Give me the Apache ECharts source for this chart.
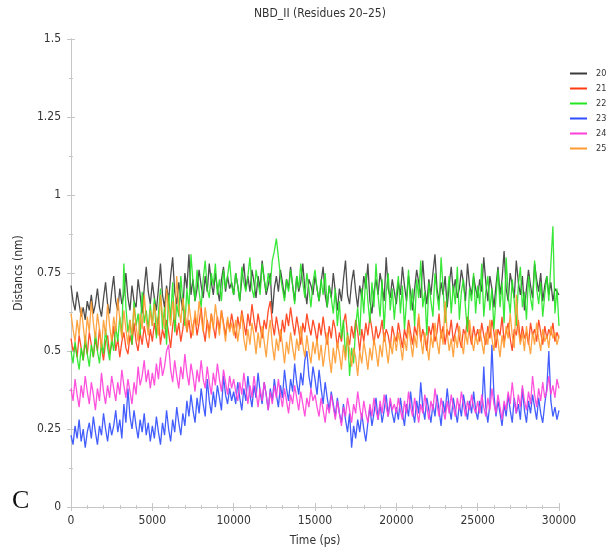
<!DOCTYPE html>
<html>
<head>
<meta charset="utf-8">
<script src="https://cdn.jsdelivr.net/npm/echarts@6/dist/echarts.min.js"></script>
<style>html,body{margin:0;padding:0;background:#fff}#c{width:611px;height:552px}</style>
</head>
<body>
<div id="c"></div>
<script>
const timeMax = 30000; // ps, samples evenly spaced from 0 to timeMax
const residues = ['20','21','22','23','24','25'];
const xTicks = [0,5000,10000,15000,20000,25000,30000];
const yTicks = [0,0.25,0.5,0.75,1,1.25,1.5];

const r20 = [
 0.71,0.66,0.63,0.69,0.65,0.61,0.64,0.60,0.66,0.63,0.68,0.62,0.65,0.70,0.64,0.61,0.67,0.72,0.65,0.62,0.69,0.74,0.66,0.63,0.70,0.65,0.68,0.75,0.67,0.63,0.71,0.66,0.64,0.73,0.68,0.62,0.70,0.77,0.69,0.65,
 0.72,0.67,0.63,0.70,0.78,0.68,0.64,0.71,0.66,0.74,0.80,0.69,0.65,0.72,0.67,0.63,0.75,0.70,0.81,0.68,0.73,0.66,0.70,0.76,0.71,0.67,0.74,0.69,0.78,0.72,0.68,0.75,0.70,0.66,0.73,0.77,0.69,0.74,0.70,0.72,
 0.68,0.75,0.71,0.66,0.73,0.78,0.70,0.74,0.69,0.76,0.72,0.67,0.74,0.70,0.79,0.73,0.68,0.71,0.75,0.62,0.70,0.74,0.69,0.76,0.72,0.67,0.73,0.70,0.77,0.71,0.66,0.74,0.69,0.72,0.78,0.70,0.65,0.73,0.71,0.68,
 0.74,0.70,0.66,0.72,0.77,0.68,0.64,0.71,0.67,0.75,0.69,0.63,0.70,0.66,0.73,0.79,0.68,0.65,0.72,0.76,0.69,0.64,0.71,0.67,0.74,0.70,0.78,0.66,0.62,0.69,0.73,0.68,0.75,0.71,0.66,0.80,0.70,0.67,0.73,0.69,
 0.65,0.72,0.68,0.77,0.71,0.66,0.74,0.69,0.63,0.70,0.76,0.72,0.67,0.79,0.70,0.65,0.73,0.68,0.75,0.81,0.70,0.66,0.72,0.68,0.74,0.64,0.71,0.77,0.69,0.73,0.67,0.70,0.76,0.72,0.66,0.78,0.71,0.68,0.74,0.70,
 0.67,0.73,0.69,0.80,0.72,0.66,0.74,0.70,0.64,0.71,0.77,0.68,0.73,0.82,0.70,0.66,0.75,0.71,0.67,0.79,0.72,0.68,0.74,0.63,0.70,0.76,0.71,0.67,0.78,0.73,0.69,0.75,0.66,0.71,0.74,0.68,0.72,0.66,0.70,0.69,0.68];
const r21 = [
 0.54,0.50,0.52,0.48,0.55,0.51,0.47,0.53,0.49,0.56,0.52,0.48,0.54,0.50,0.57,0.51,0.47,0.53,0.55,0.49,0.52,0.58,0.50,0.54,0.48,0.53,0.56,0.51,0.49,0.55,0.52,0.59,0.53,0.50,0.56,0.52,0.58,0.54,0.51,0.57,
 0.53,0.59,0.55,0.61,0.52,0.57,0.54,0.60,0.56,0.51,0.58,0.62,0.55,0.59,0.53,0.57,0.63,0.56,0.60,0.54,0.58,0.61,0.55,0.59,0.64,0.57,0.53,0.60,0.56,0.62,0.58,0.54,0.61,0.57,0.63,0.59,0.55,0.60,0.57,0.62,
 0.58,0.54,0.61,0.57,0.63,0.59,0.55,0.62,0.58,0.65,0.60,0.56,0.62,0.58,0.54,0.60,0.57,0.63,0.66,0.59,0.55,0.61,0.57,0.53,0.60,0.56,0.62,0.58,0.64,0.59,0.55,0.61,0.57,0.52,0.59,0.56,0.62,0.58,0.55,0.60,
 0.57,0.53,0.59,0.55,0.61,0.56,0.52,0.58,0.54,0.60,0.57,0.51,0.56,0.53,0.59,0.62,0.55,0.52,0.58,0.54,0.60,0.56,0.50,0.57,0.53,0.59,0.55,0.61,0.57,0.52,0.58,0.54,0.56,0.60,0.53,0.57,0.55,0.51,0.58,0.55,
 0.53,0.59,0.55,0.51,0.57,0.54,0.60,0.56,0.52,0.58,0.55,0.61,0.53,0.57,0.54,0.50,0.58,0.55,0.59,0.53,0.56,0.62,0.54,0.58,0.52,0.57,0.55,0.60,0.53,0.56,0.59,0.54,0.51,0.57,0.55,0.61,0.56,0.52,0.58,0.54,
 0.57,0.53,0.59,0.55,0.52,0.58,0.54,0.60,0.56,0.51,0.57,0.55,0.61,0.53,0.56,0.59,0.54,0.50,0.57,0.55,0.60,0.53,0.58,0.54,0.56,0.52,0.59,0.55,0.57,0.53,0.60,0.56,0.52,0.58,0.54,0.57,0.55,0.59,0.53,0.56,0.54];
const r22 = [
 0.50,0.46,0.53,0.48,0.44,0.51,0.47,0.55,0.49,0.45,0.52,0.48,0.56,0.50,0.46,0.53,0.49,0.57,0.51,0.47,0.54,0.50,0.58,0.53,0.61,0.55,0.78,0.64,0.56,0.60,0.52,0.66,0.58,0.62,0.55,0.69,0.59,0.63,0.57,0.65,
 0.58,0.67,0.54,0.62,0.70,0.57,0.64,0.52,0.68,0.60,0.72,0.56,0.65,0.61,0.74,0.66,0.58,0.70,0.63,0.81,0.72,0.66,0.76,0.69,0.64,0.73,0.79,0.70,0.67,0.75,0.71,0.78,0.68,0.73,0.66,0.76,0.70,0.74,0.79,0.71,
 0.68,0.75,0.71,0.66,0.77,0.72,0.69,0.74,0.80,0.70,0.67,0.76,0.72,0.68,0.78,0.73,0.69,0.75,0.71,0.79,0.82,0.86,0.80,0.74,0.70,0.66,0.73,0.69,0.76,0.71,0.65,0.74,0.70,0.78,0.72,0.67,0.75,0.70,0.64,0.72,
 0.76,0.70,0.66,0.73,0.68,0.75,0.64,0.71,0.67,0.62,0.70,0.58,0.66,0.54,0.60,0.48,0.56,0.42,0.51,0.46,0.58,0.64,0.55,0.70,0.62,0.75,0.66,0.59,0.72,0.64,0.78,0.68,0.61,0.73,0.57,0.69,0.75,0.63,0.70,0.60,
 0.68,0.74,0.62,0.71,0.57,0.66,0.76,0.63,0.70,0.58,0.73,0.67,0.79,0.64,0.69,0.55,0.72,0.66,0.61,0.75,0.68,0.63,0.80,0.70,0.59,0.67,0.74,0.62,0.71,0.65,0.77,0.60,0.69,0.73,0.64,0.56,0.70,0.66,0.75,0.62,
 0.71,0.65,0.78,0.61,0.69,0.74,0.63,0.70,0.57,0.67,0.76,0.64,0.72,0.59,0.80,0.68,0.62,0.73,0.66,0.58,0.71,0.77,0.64,0.69,0.60,0.74,0.67,0.63,0.79,0.70,0.65,0.72,0.61,0.68,0.74,0.66,0.78,0.90,0.62,0.70,0.58];
const r23 = [
 0.23,0.20,0.26,0.22,0.28,0.21,0.25,0.19,0.24,0.27,0.22,0.29,0.24,0.20,0.26,0.23,0.30,0.25,0.21,0.27,0.23,0.26,0.31,0.24,0.28,0.22,0.33,0.27,0.38,0.29,0.25,0.31,0.26,0.22,0.28,0.24,0.30,0.23,0.27,0.21,
 0.26,0.22,0.29,0.24,0.20,0.27,0.23,0.31,0.25,0.21,0.28,0.24,0.32,0.27,0.23,0.30,0.26,0.34,0.29,0.36,0.31,0.27,0.35,0.30,0.38,0.33,0.29,0.41,0.34,0.30,0.37,0.32,0.39,0.35,0.31,0.42,0.36,0.33,0.38,0.34,
 0.37,0.33,0.40,0.35,0.31,0.38,0.34,0.42,0.36,0.32,0.39,0.35,0.43,0.37,0.33,0.40,0.36,0.31,0.38,0.34,0.41,0.36,0.32,0.39,0.35,0.44,0.38,0.34,0.41,0.37,0.46,0.40,0.36,0.43,0.39,0.47,0.50,0.42,0.38,0.45,
 0.41,0.36,0.44,0.38,0.33,0.40,0.35,0.31,0.37,0.33,0.29,0.35,0.30,0.27,0.33,0.28,0.24,0.30,0.19,0.26,0.22,0.28,0.24,0.30,0.25,0.21,0.27,0.32,0.26,0.30,0.35,0.28,0.33,0.27,0.31,0.36,0.29,0.34,0.30,0.27,
 0.32,0.28,0.35,0.30,0.26,0.33,0.29,0.37,0.31,0.27,0.34,0.30,0.40,0.32,0.28,0.35,0.31,0.27,0.33,0.29,0.36,0.31,0.26,0.34,0.30,0.38,0.32,0.28,0.35,0.31,0.27,0.33,0.29,0.36,0.32,0.28,0.34,0.30,0.37,0.31,
 0.28,0.34,0.30,0.45,0.32,0.27,0.33,0.52,0.36,0.29,0.34,0.30,0.26,0.33,0.29,0.36,0.31,0.27,0.35,0.30,0.33,0.28,0.38,0.31,0.27,0.34,0.30,0.36,0.32,0.28,0.35,0.30,0.27,0.33,0.38,0.50,0.34,0.29,0.32,0.28,0.31];
const r24 = [
 0.38,0.34,0.41,0.36,0.32,0.39,0.35,0.42,0.37,0.33,0.40,0.36,0.31,0.38,0.34,0.43,0.37,0.33,0.39,0.35,0.42,0.38,0.34,0.40,0.36,0.44,0.39,0.35,0.41,0.37,0.33,0.40,0.36,0.45,0.39,0.42,0.47,0.40,0.44,0.38,
 0.43,0.39,0.46,0.41,0.48,0.42,0.45,0.50,0.52,0.44,0.40,0.47,0.42,0.38,0.45,0.41,0.49,0.43,0.39,0.46,0.42,0.37,0.44,0.40,0.47,0.41,0.38,0.45,0.40,0.36,0.43,0.39,0.46,0.41,0.37,0.44,0.40,0.36,0.42,0.38,
 0.41,0.37,0.34,0.40,0.36,0.43,0.38,0.33,0.39,0.35,0.42,0.37,0.32,0.38,0.34,0.40,0.36,0.31,0.37,0.33,0.39,0.35,0.41,0.36,0.32,0.38,0.34,0.30,0.36,0.33,0.39,0.35,0.31,0.37,0.33,0.29,0.35,0.32,0.38,0.34,
 0.36,0.32,0.29,0.35,0.31,0.27,0.33,0.30,0.36,0.32,0.28,0.34,0.30,0.26,0.32,0.29,0.35,0.31,0.27,0.33,0.30,0.37,0.32,0.28,0.34,0.30,0.27,0.33,0.29,0.35,0.31,0.28,0.34,0.30,0.36,0.32,0.29,0.35,0.31,0.33,
 0.30,0.35,0.31,0.28,0.34,0.30,0.37,0.32,0.29,0.35,0.31,0.27,0.33,0.30,0.36,0.32,0.28,0.34,0.31,0.38,0.33,0.29,0.35,0.31,0.28,0.34,0.30,0.36,0.32,0.29,0.35,0.31,0.37,0.33,0.29,0.34,0.31,0.36,0.32,0.30,
 0.34,0.30,0.36,0.32,0.29,0.35,0.31,0.38,0.33,0.30,0.36,0.32,0.28,0.34,0.31,0.37,0.33,0.40,0.34,0.30,0.36,0.32,0.39,0.34,0.31,0.37,0.33,0.42,0.36,0.32,0.38,0.34,0.40,0.35,0.37,0.42,0.36,0.39,0.35,0.41,0.38];
const r25 = [
 0.62,0.57,0.53,0.60,0.55,0.64,0.58,0.52,0.61,0.56,0.66,0.59,0.54,0.62,0.57,0.51,0.60,0.55,0.65,0.58,0.53,0.61,0.56,0.67,0.60,0.54,0.63,0.57,0.52,0.60,0.55,0.64,0.58,0.53,0.62,0.57,0.68,0.60,0.55,0.63,
 0.58,0.65,0.60,0.55,0.68,0.61,0.57,0.70,0.63,0.58,0.66,0.60,0.74,0.64,0.59,0.67,0.62,0.56,0.65,0.60,0.55,0.63,0.58,0.66,0.61,0.56,0.64,0.59,0.54,0.62,0.57,0.65,0.60,0.55,0.63,0.58,0.53,0.61,0.56,0.59,
 0.55,0.60,0.53,0.58,0.62,0.54,0.50,0.57,0.52,0.59,0.55,0.49,0.56,0.51,0.58,0.53,0.48,0.55,0.60,0.52,0.47,0.54,0.50,0.57,0.52,0.46,0.53,0.49,0.56,0.51,0.47,0.54,0.50,0.58,0.52,0.48,0.55,0.50,0.46,0.53,
 0.49,0.54,0.47,0.52,0.45,0.50,0.56,0.48,0.43,0.51,0.46,0.53,0.49,0.44,0.52,0.47,0.55,0.50,0.45,0.51,0.48,0.42,0.50,0.46,0.53,0.49,0.44,0.51,0.47,0.54,0.50,0.45,0.52,0.48,0.56,0.51,0.46,0.53,0.49,0.55,
 0.50,0.56,0.52,0.47,0.54,0.50,0.58,0.53,0.48,0.55,0.51,0.62,0.54,0.49,0.56,0.52,0.47,0.55,0.51,0.59,0.53,0.49,0.57,0.52,0.66,0.56,0.50,0.54,0.48,0.55,0.51,0.58,0.53,0.49,0.56,0.52,0.60,0.54,0.50,0.55,
 0.52,0.57,0.53,0.49,0.56,0.52,0.60,0.54,0.50,0.57,0.53,0.48,0.55,0.51,0.58,0.54,0.62,0.55,0.51,0.68,0.57,0.52,0.56,0.50,0.58,0.53,0.49,0.56,0.52,0.59,0.54,0.50,0.57,0.53,0.55,0.51,0.58,0.54,0.56,0.52,0.55];

const seriesValues = [r20, r21, r22, r23, r24, r25];
const colors = ['#3a3a3a','#ff3b12','#22e622','#2f4cff','#ff3fd8','#ff9a2e'];
const FONT = '"Liberation Sans Narrow","DejaVu Sans Condensed","Liberation Sans",sans-serif';

const chart = echarts.init(document.getElementById('c'));
const axisCol = '#c6c6c6';
function xAxisDef(pos, labels) {
  return {
    type: 'value', position: pos, min: 0, max: 30000, interval: 5000,
    name: labels ? 'Time (ps)' : '', nameLocation: 'middle', nameGap: 28,
    nameTextStyle: {fontFamily: FONT, fontSize: 12, color: '#333'},
    axisLine: {show: true, lineStyle: {color: axisCol, width: 1}},
    axisTick: {show: true, inside: true, length: 4, lineStyle: {color: axisCol}},
    minorTick: {show: true, splitNumber: 5, length: 2, lineStyle: {color: axisCol}},
    axisLabel: {show: labels, fontFamily: FONT, fontSize: 12, color: '#333', margin: 8,
      formatter: v => xTicks.includes(v) ? String(v) : ''},
    splitLine: {show: false}
  };
}
function yAxisDef(pos, labels) {
  return {
    type: 'value', position: pos, min: 0, max: 1.5, interval: 0.25,
    name: labels ? 'Distancs (nm)' : '', nameLocation: 'middle', nameGap: 46, nameRotate: 90,
    nameTextStyle: {fontFamily: FONT, fontSize: 12, color: '#333'},
    axisLine: {show: true, lineStyle: {color: axisCol, width: 1}},
    axisTick: {show: true, inside: true, length: 4, lineStyle: {color: axisCol}},
    minorTick: {show: true, splitNumber: 2, length: 2, lineStyle: {color: axisCol}},
    axisLabel: {show: labels, fontFamily: FONT, fontSize: 12, color: '#333', margin: 10,
      formatter: v => yTicks.includes(v) ? String(v) : ''},
    splitLine: {show: false}
  };
}

chart.setOption({
  animation: false,
  backgroundColor: '#fff',
  title: {text: 'NBD_II (Residues 20\u201325)', left: 315, top: 3, textAlign: 'center',
    textStyle: {fontFamily: FONT, fontSize: 12, fontWeight: 'normal', color: '#333'}},
  grid: {left: 71, right: 52, top: 39, bottom: 44},
  legend: {
    orient: 'vertical', left: 565, top: 64, itemWidth: 17, itemHeight: 2, itemGap: 6,
    icon: 'rect',
    textStyle: {fontFamily: FONT, fontSize: 9, color: '#333', padding: [0,0,0,4]},
    data: residues
  },
  xAxis: [xAxisDef('bottom', true), xAxisDef('top', false)],
  yAxis: [yAxisDef('left', true), yAxisDef('right', false)],
  graphic: [{type: 'text', left: 12, top: 488,
    style: {text: 'C', font: '26px "Liberation Serif", "DejaVu Serif", serif', fill: '#111'}}],
  series: residues.map((name, k) => {
    const vals = seriesValues[k];
    const step = timeMax / (vals.length - 1);
    return {
      name, type: 'line', xAxisIndex: 0, yAxisIndex: 0,
      data: vals.map((v, i) => [i * step, v]),
      showSymbol: false, symbol: 'none',
      lineStyle: {color: colors[k], width: 1.3, opacity: 0.9},
      itemStyle: {color: colors[k]}
    };
  })
});
</script>
</body>
</html>
